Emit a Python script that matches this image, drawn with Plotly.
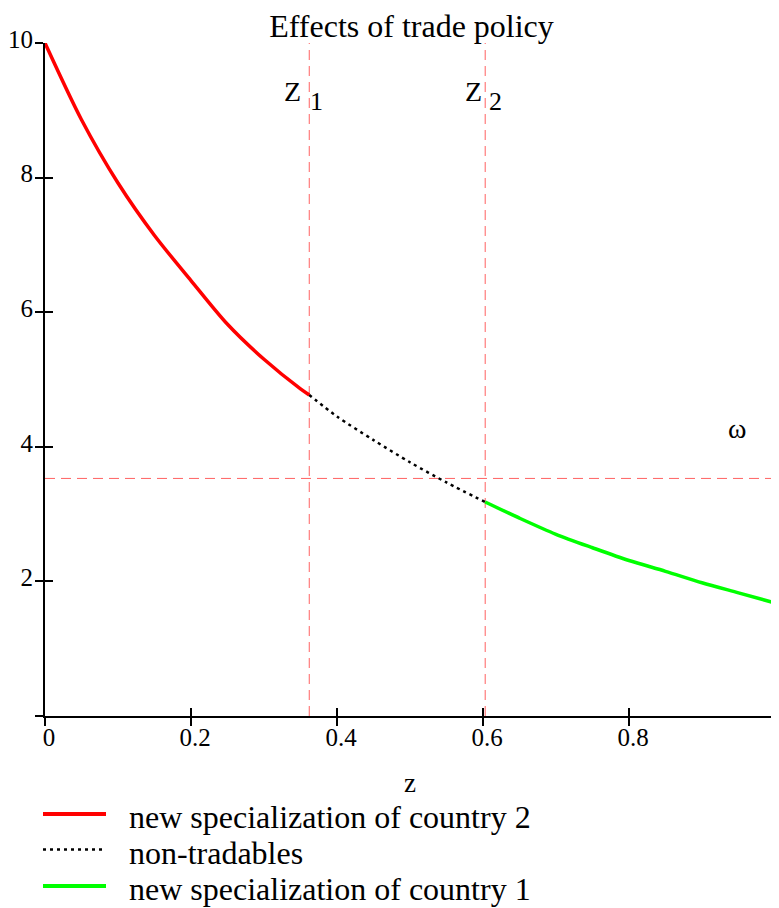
import plotly.graph_objects as go

# Curve values
z_country2 = [0.0, 0.05, 0.10, 0.15, 0.20, 0.25, 0.30, 0.35, 0.362]
w_country2 = [10.0, 8.86, 7.92, 7.14, 6.47, 5.82, 5.30, 4.86, 4.77]

z_nontrad = [0.362, 0.40, 0.45, 0.50, 0.55, 0.603]
w_nontrad = [4.77, 4.45, 4.10, 3.77, 3.47, 3.18]

z_country1 = [0.603, 0.65, 0.70, 0.75, 0.80, 0.85, 0.90, 0.95, 1.0]
w_country1 = [3.18, 2.94, 2.70, 2.50, 2.31, 2.15, 1.98, 1.83, 1.68]

z1 = 0.362
z2 = 0.603
omega = 3.53

x_ticks = [0, 0.2, 0.4, 0.6, 0.8, 1]
x_tick_labels = ["0", "0.2", "0.4", "0.6", "0.8", "1"]
y_ticks = [0, 2, 4, 6, 8, 10]
y_tick_labels = ["", "2", "4", "6", "8", "10"]

legend_names = ["new specialization of country 2", "non-tradables", "new specialization of country 1"]
legend_colors = ["#ff0000", "#000000", "#00ff00"]
legend_dashes = ["solid", "3px,4px", "solid"]

FONT = "Liberation Serif, Times New Roman, serif"
DASH_COLOR = "rgba(255,80,80,0.9)"

# page geometry (the page body adds an 8px offset)
OFF = 8
W, H = 771, 900
L, R, T, B = 37, 4, 35, 192
PW = W - L - R
PH = H - T - B


def paper_x(wx):
    return (wx - OFF - L) / PW


def paper_y(wy):
    return (H - B - (wy - OFF)) / PH


fig = go.Figure()

# reference lines
for xv in (z1, z2):
    fig.add_trace(go.Scatter(x=[xv, xv], y=[0, 10], mode="lines", showlegend=False,
                             line=dict(color=DASH_COLOR, width=1, dash="10px,6px"), hoverinfo="skip"))
fig.add_trace(go.Scatter(x=[0, 1], y=[omega, omega], mode="lines", showlegend=False,
                         line=dict(color=DASH_COLOR, width=1, dash="10px,6px"), hoverinfo="skip"))

curve_x = [z_country2, z_nontrad, z_country1]
curve_y = [w_country2, w_nontrad, w_country1]
for xs, ys, name, col, dash in zip(curve_x, curve_y, legend_names, legend_colors, legend_dashes):
    fig.add_trace(go.Scatter(x=xs, y=ys, mode="lines", name=name, showlegend=False,
                             line=dict(color=col, width=3.5 if dash == "solid" else 2.5,
                                       dash=dash, shape="spline", smoothing=0.8),
                             cliponaxis=False))

# inner halves of the tick marks (overlay axes)
fig.add_trace(go.Scatter(x=[None], y=[None], xaxis="x2", yaxis="y2", showlegend=False))

fig.update_layout(
    width=W, height=H,
    margin=dict(l=L, r=R, t=T, b=B, autoexpand=False),
    paper_bgcolor="white", plot_bgcolor="white",
    font=dict(family=FONT, size=24, color="black"),
    title=dict(text="Effects of trade policy", x=(411.5 - OFF) / W, xanchor="center",
               y=1 - 7 / H, yanchor="top", yref="container",
               font=dict(family=FONT, size=32, color="black")),
    xaxis=dict(range=[0, 1], tickvals=x_ticks, ticktext=x_tick_labels, showgrid=False, zeroline=False,
               showline=True, linecolor="black", linewidth=2, ticks="outside", ticklen=8, tickwidth=2,
               tickcolor="black", automargin=False, ticklabelstandoff=-10, ticklabelshift=4,
               title=dict(text="z", standoff=23, font=dict(family=FONT, size=27)),
               tickfont=dict(family=FONT, size=25)),
    yaxis=dict(range=[0, 10], tickvals=y_ticks, ticktext=y_tick_labels, showgrid=False, zeroline=False,
               showline=True, linecolor="black", linewidth=2, ticks="outside", ticklen=8, tickwidth=2,
               tickcolor="black", automargin=False, ticklabelstandoff=-3, ticklabelshift=-4,
               tickfont=dict(family=FONT, size=25)),
    xaxis2=dict(range=[0, 1], overlaying="x", tickvals=x_ticks[1:], showticklabels=False, showgrid=False,
                zeroline=False, showline=False, ticks="inside", ticklen=8, tickwidth=2, tickcolor="black",
                side="bottom"),
    yaxis2=dict(range=[0, 10], overlaying="y", tickvals=y_ticks[1:], showticklabels=False, showgrid=False,
                zeroline=False, showline=False, ticks="inside", ticklen=8, tickwidth=2, tickcolor="black",
                side="left"),
    showlegend=False,
)

# legend drawn under the axis
legend_rows = [814, 849.5, 886]
for wy, name, col, dash in zip(legend_rows, legend_names, legend_colors, legend_dashes):
    fig.add_shape(type="line", xref="paper", yref="paper",
                  x0=paper_x(43), x1=paper_x(106), y0=paper_y(wy), y1=paper_y(wy),
                  line=dict(color=col, width=4 if dash == "solid" else 2.5, dash=dash))
    fig.add_annotation(x=paper_x(127), y=paper_y(wy + 3), xref="paper", yref="paper", text=name,
                       showarrow=False, xanchor="left", yanchor="middle",
                       font=dict(family=FONT, size=32))

# z1 / z2 labels
for xv, sub, zshift, sshift in ((z1, "1", -6, -1), (z2, "2", -1, 2)):
    fig.add_annotation(x=xv, y=1, xref="x", yref="paper", text="Z", showarrow=False,
                       xanchor="right", yanchor="top", xshift=zshift, yshift=-31,
                       font=dict(family=FONT, size=28))
    fig.add_annotation(x=xv, y=1, xref="x", yref="paper", text=sub, showarrow=False,
                       xanchor="left", yanchor="top", xshift=sshift, yshift=-42,
                       font=dict(family=FONT, size=26))

fig.add_annotation(x=0.948, y=omega, xref="x", yref="y", text="ω", showarrow=False,
                   xanchor="center", yanchor="middle", yshift=50,
                   font=dict(family=FONT, size=28))

fig.write_html("out.html")
